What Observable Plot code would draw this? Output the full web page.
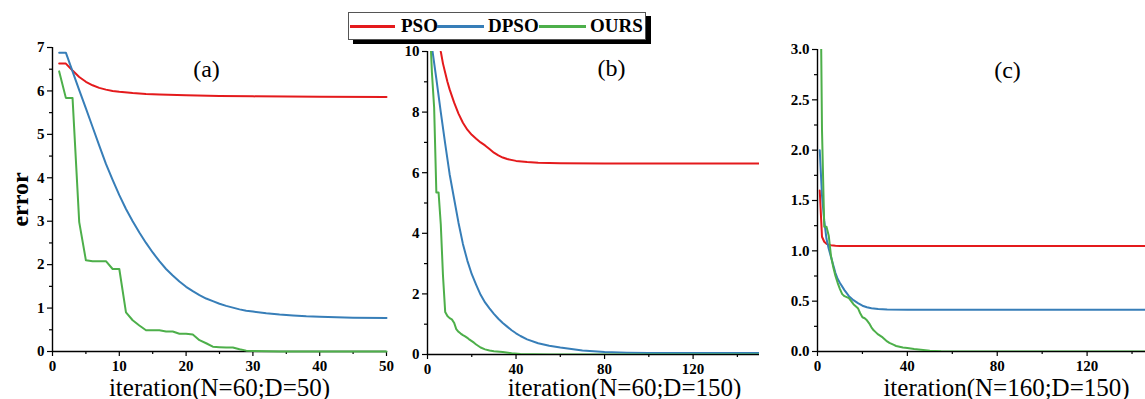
<!DOCTYPE html>
<html><head><meta charset="utf-8">
<script src="https://cdn.jsdelivr.net/npm/d3@7"></script>
<script src="https://cdn.jsdelivr.net/npm/@observablehq/plot@0.6"></script>
<style>
html,body{margin:0;padding:0;overflow:hidden;background:#fff;}
#wrap{position:relative;width:1145px;height:399px;overflow:hidden;font-family:"Liberation Serif","Times New Roman",serif;}
.panel{position:absolute;top:0;}
#legend{position:absolute;left:348px;top:12px;width:296px;height:26px;border:1px solid #555;background:#fff;box-shadow:5px 4px 0 #000;z-index:5;}
#legend .ln{position:absolute;top:12px;height:3px;}
#legend .tx{position:absolute;top:0;line-height:26px;font-size:19px;font-weight:bold;color:#000;}
</style></head><body>
<div id="wrap"><div id="legend"></div></div>
<script>
// ---- data ----
const seriesNames = ["PSO", "DPSO", "OURS"];
const seriesColors = ["#e41a1c", "#377eb8", "#4daf4a"];

// Panel (a): iteration(N=60;D=50)
const aPSO = [[1,6.63],[2,6.63],[3,6.47],[4,6.32],[5,6.21],[6,6.13],[7,6.07],[8,6.03],[9,6.0],[10,5.98],[12,5.95],[14,5.93],[16,5.92],[20,5.9],[25,5.885],[30,5.875],[40,5.865],[50,5.86]];
const aDPSO = [[1,6.88],[2,6.88],[3,6.45],[4,6.02],[5,5.6],[6,5.17],[7,4.74],[8,4.32],[9,3.95],[10,3.6],[11,3.28],[12,3.0],[13,2.74],[14,2.5],[15,2.28],[16,2.08],[17,1.9],[18,1.75],[19,1.61],[20,1.49],[21,1.39],[22,1.3],[23,1.22],[24,1.16],[25,1.1],[26,1.05],[27,1.01],[28,0.97],[29,0.94],[30,0.92],[32,0.88],[34,0.85],[36,0.83],[38,0.81],[40,0.8],[45,0.78],[50,0.77]];
const aOURS = [[1,6.45],[2,5.84],[3,5.84],[4,2.98],[5,2.1],[6,2.08],[7,2.08],[8,2.08],[9,1.9],[10,1.9],[11,0.9],[12,0.72],[13,0.6],[14,0.49],[15,0.49],[16,0.49],[17,0.46],[18,0.46],[19,0.41],[20,0.41],[21,0.39],[22,0.26],[23,0.19],[24,0.11],[25,0.1],[26,0.09],[27,0.09],[28,0.05],[29,0.02],[30,0.01],[32,0.005],[34,0],[50,0]];

// Panel (b): iteration(N=60;D=150)
const bPSO = [[4,11.1],[5,10.5],[6,10.0],[7,9.6],[8,9.3],[9,9.0],[10,8.75],[12,8.32],[14,7.95],[16,7.65],[18,7.42],[20,7.25],[22,7.12],[24,7.0],[26,6.9],[28,6.78],[30,6.66],[32,6.57],[34,6.5],[36,6.45],[40,6.39],[45,6.35],[50,6.33],[60,6.31],[80,6.3],[150,6.3]];
const bDPSO = [[1,10.7],[2,10.15],[4,9.1],[6,8.0],[8,6.95],[10,5.95],[12,5.15],[14,4.35],[16,3.65],[18,3.1],[20,2.65],[22,2.3],[24,1.97],[26,1.72],[28,1.52],[30,1.34],[32,1.18],[34,1.04],[36,0.92],[38,0.8],[40,0.7],[42,0.61],[45,0.5],[50,0.37],[55,0.29],[60,0.23],[70,0.13],[80,0.08],[90,0.06],[100,0.05],[150,0.05]];
const bOURS = [[1,11],[2,9.3],[3,8.15],[4,5.35],[5,5.35],[6,4.3],[7,2.6],[8,1.4],[9,1.27],[10,1.2],[11,1.16],[12,1.05],[13,0.84],[14,0.75],[15,0.69],[16,0.64],[17,0.6],[18,0.55],[19,0.49],[20,0.44],[21,0.39],[22,0.33],[23,0.28],[24,0.23],[26,0.17],[28,0.13],[30,0.11],[34,0.08],[38,0.04],[42,0.02],[48,0.01],[55,0],[150,0]];

// Panel (c): iteration(N=160;D=150)
const cPSO = [[1,1.6],[2,1.14],[3,1.09],[4,1.07],[5,1.06],[6,1.055],[8,1.05],[10,1.048],[150,1.047]];
const cDPSO = [[1,2.0],[2,1.55],[3,1.3],[4,1.12],[5,1.02],[6,0.94],[7,0.86],[8,0.78],[9,0.72],[10,0.68],[12,0.61],[14,0.55],[16,0.51],[18,0.48],[20,0.455],[22,0.44],[24,0.43],[27,0.422],[31,0.417],[40,0.415],[150,0.415]];
const cOURS = [[1,4.5],[2,2.2],[3,1.24],[4,1.24],[5,1.15],[6,0.95],[7,0.84],[8,0.75],[9,0.68],[10,0.62],[11,0.57],[12,0.55],[13,0.54],[14,0.53],[15,0.5],[16,0.47],[17,0.45],[18,0.43],[19,0.38],[20,0.34],[21,0.33],[22,0.31],[23,0.28],[24,0.24],[25,0.21],[26,0.19],[27,0.17],[28,0.155],[29,0.14],[30,0.12],[31,0.1],[32,0.085],[33,0.075],[34,0.065],[35,0.055],[36,0.05],[38,0.04],[40,0.035],[43,0.025],[46,0.018],[50,0.008],[55,0.002],[60,0],[150,0]];

// ticks
const aXTicks = [0,10,20,30,40,50], aXMinor = [5,15,25,35,45];
const aYTicks = [0,1,2,3,4,5,6,7], aYMinor = [0.5,1.5,2.5,3.5,4.5,5.5,6.5];
const bXTicks = [0,40,80,120], bXMinor = [20,60,100,140];
const bYTicks = [0,2,4,6,8,10], bYMinor = [1,3,5,7,9];
const cXTicks = [0,40,80,120], cXMinor = [20,60,100,140];
const cYTicks = [0,0.5,1,1.5,2,2.5,3], cYMinor = [0.25,0.75,1.25,1.75,2.25,2.75];

const titles = ["(a)", "(b)", "(c)"];
const xLabels = ["iteration(N=60;D=50)", "iteration(N=60;D=150)", "iteration(N=160;D=150)"];
const yLabel = "error";

const FONT = '"Liberation Serif","Times New Roman",serif';
const wrap = document.getElementById("wrap");

function panel(cfg) {
  const lines = cfg.data.map((d, i) =>
    Plot.line(d, {x: p => p[0], y: p => p[1], stroke: seriesColors[i], strokeWidth: 2, clip: cfg.clip}));
  const marks = [
    Plot.axisX(cfg.xMinor, {tickSize: 3, tickFormat: () => "", strokeWidth: 1.2}),
    Plot.axisX(cfg.xTicks, {tickSize: 5, tickPadding: 4, strokeWidth: 1.2, fontSize: 15, fontWeight: "bold", fontFamily: FONT}),
    Plot.axisY(cfg.yMinor, {tickSize: 3, tickFormat: () => "", strokeWidth: 1.2}),
    Plot.axisY(cfg.yTicks, {tickSize: 5, tickPadding: 3, tickFormat: cfg.fmt, strokeWidth: 1.2, fontSize: 15, fontWeight: "bold", fontFamily: FONT}),
    Plot.ruleY([cfg.yDomain[0]], {stroke: "#000", strokeWidth: 1.4}),
    Plot.ruleX([cfg.xDomain[0]], {stroke: "#000", strokeWidth: 1.4}),
    ...lines,
    Plot.text([cfg.title], {frameAnchor: "top-left", dx: cfg.tdx, dy: cfg.tdy, text: d => d,
      textAnchor: "middle", lineAnchor: "middle", fontSize: 24, fontWeight: "normal", fontFamily: FONT}),
    Plot.text([cfg.xLabel], {frameAnchor: "bottom-left", dx: cfg.ldx, dy: cfg.ldy, text: d => d,
      textAnchor: "middle", lineAnchor: "middle", fontSize: 25, fontWeight: "normal", fontFamily: FONT})
  ];
  if (cfg.yLabel) marks.push(Plot.text([cfg.yLabel], {frameAnchor: "left", dx: -32, text: d => d,
      rotate: -90, textAnchor: "middle", lineAnchor: "middle", fontSize: 24, fontWeight: "bold", fontFamily: FONT}));
  const chart = Plot.plot({
    width: cfg.width, height: 399,
    marginLeft: cfg.ml, marginRight: cfg.mr, marginTop: cfg.mt, marginBottom: cfg.mb,
    x: {domain: cfg.xDomain, label: null},
    y: {domain: cfg.yDomain, label: null},
    style: {fontFamily: FONT, fontSize: "15px", color: "#000", background: "transparent", maxWidth: "none", overflow: "visible"},
    marks
  });
  const div = document.createElement("div");
  div.className = "panel";
  div.style.left = cfg.left + "px";
  div.style.width = cfg.width + "px";
  div.appendChild(chart);
  wrap.appendChild(div);
}

panel({left: 0, width: 400, ml: 52, mr: 14, mt: 47, mb: 48,
  xDomain: [0, 50], yDomain: [0, 7], xTicks: aXTicks, xMinor: aXMinor, yTicks: aYTicks, yMinor: aYMinor,
  fmt: d => String(d), data: [aPSO, aDPSO, aOURS], clip: false,
  title: titles[0], tdx: 154, tdy: 22, xLabel: xLabels[0], ldx: 167, ldy: 36, yLabel});
panel({left: 380, width: 390, ml: 47, mr: 11, mt: 51, mb: 45,
  xDomain: [0, 150], yDomain: [0, 10], xTicks: bXTicks, xMinor: bXMinor, yTicks: bYTicks, yMinor: bYMinor,
  fmt: d => String(d), data: [bPSO, bDPSO, bOURS], clip: true,
  title: titles[1], tdx: 184, tdy: 17, xLabel: xLabels[1], ldx: 197, ldy: 33});
panel({left: 760, width: 400, ml: 57, mr: 6, mt: 49, mb: 48,
  xDomain: [0, 150], yDomain: [0, 3], xTicks: cXTicks, xMinor: cXMinor, yTicks: cYTicks, yMinor: cYMinor,
  fmt: d => d.toFixed(1), data: [cPSO, cDPSO, cOURS], clip: true,
  title: titles[2], tdx: 190, tdy: 21, xLabel: xLabels[2], ldx: 189, ldy: 36});

// legend
const legend = document.getElementById("legend");
const lnPos = [[1, 45], [88, 47], [190, 47]];
const txPos = [52, 139, 241];
seriesNames.forEach((name, i) => {
  const ln = document.createElement("div");
  ln.className = "ln";
  ln.style.left = lnPos[i][0] + "px";
  ln.style.width = lnPos[i][1] + "px";
  ln.style.background = seriesColors[i];
  legend.appendChild(ln);
  const tx = document.createElement("div");
  tx.className = "tx";
  tx.style.left = txPos[i] + "px";
  tx.textContent = name;
  legend.appendChild(tx);
});
</script>
</body></html>
